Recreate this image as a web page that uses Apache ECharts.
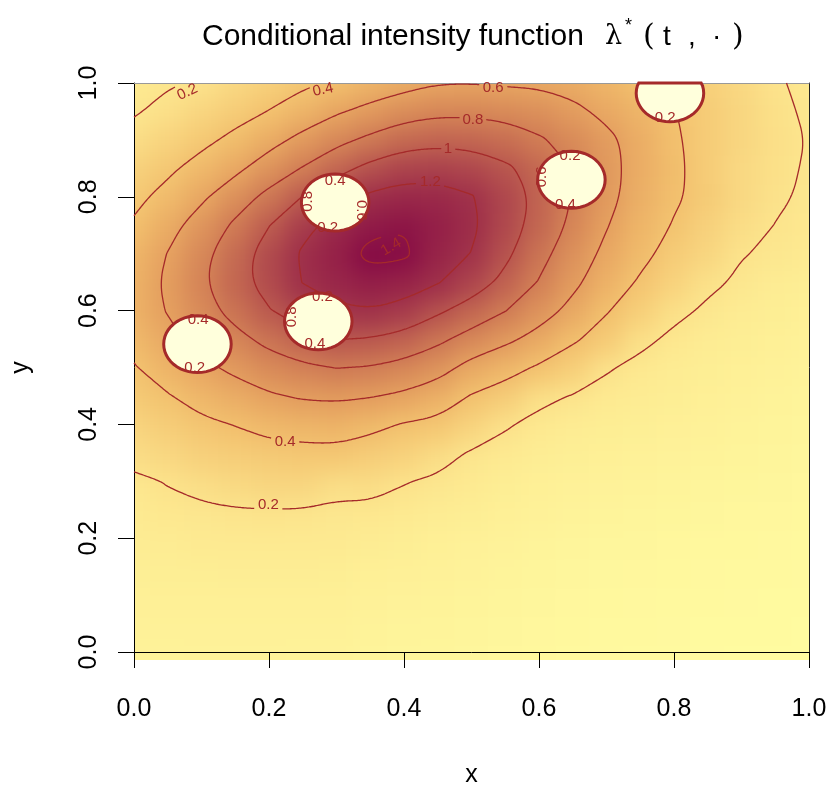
<!DOCTYPE html>
<html><head><meta charset="utf-8">
<script src="https://cdn.jsdelivr.net/npm/echarts@6/dist/echarts.min.js"></script>
<style>
html,body{margin:0;padding:0;background:#fff}
#wrap{position:relative;width:833px;height:793px}
#heat{position:absolute;left:0;top:0;width:833px;height:793px;filter:blur(11px);clip-path:inset(83px 24px 133px 134px)}
#c{position:absolute;left:0;top:0;width:833px;height:793px}
</style>
</head><body><div id="wrap"><div id="heat"></div><div id="c"></div></div>
<script>
// ---------------- data ----------------
const gridX = [0,0.05,0.1,0.15,0.2,0.25,0.3,0.35,0.4,0.45,0.5,0.55,0.6,0.65,0.7,0.75,0.8,0.85,0.9,0.95,1];
const gridY = [0,0.05,0.1,0.15,0.2,0.25,0.3,0.35,0.4,0.45,0.5,0.55,0.6,0.65,0.7,0.75,0.8,0.85,0.9,0.95,1];
// intensity rows, one per y (bottom to top), values along x
const row_y000 = [0.12,0.12,0.125,0.125,0.125,0.12,0.12,0.115,0.112,0.108,0.104,0.10,0.096,0.092,0.089,0.086,0.084,0.083,0.082,0.081,0.08];
const row_y005 = [0.13,0.13,0.13,0.13,0.13,0.13,0.13,0.12,0.117,0.114,0.11,0.106,0.10,0.096,0.093,0.09,0.088,0.086,0.085,0.084,0.082];
const row_y010 = [0.135,0.14,0.14,0.14,0.14,0.14,0.14,0.13,0.125,0.12,0.116,0.111,0.105,0.10,0.097,0.094,0.092,0.09,0.088,0.086,0.085];
const row_y015 = [0.145,0.15,0.15,0.155,0.155,0.155,0.15,0.14,0.135,0.13,0.125,0.117,0.111,0.106,0.101,0.099,0.097,0.095,0.092,0.09,0.088];
const row_y020 = [0.16,0.16,0.17,0.17,0.17,0.17,0.17,0.16,0.15,0.14,0.13,0.125,0.118,0.111,0.107,0.104,0.10,0.098,0.096,0.094,0.092];
const row_y025 = [0.17,0.18,0.185,0.195,0.198,0.197,0.185,0.18,0.17,0.16,0.15,0.14,0.13,0.12,0.116,0.11,0.108,0.105,0.10,0.099,0.096];
const row_y030 = [0.18,0.205,0.235,0.26,0.28,0.28,0.235,0.24,0.205,0.185,0.17,0.15,0.14,0.13,0.125,0.12,0.115,0.11,0.108,0.104,0.10];
const row_y035 = [0.24,0.27,0.31,0.33,0.35,0.36,0.36,0.33,0.30,0.24,0.19,0.17,0.155,0.145,0.14,0.13,0.125,0.12,0.115,0.11,0.105];
const row_y040 = [0.29,0.33,0.37,0.405,0.45,0.47,0.48,0.44,0.39,0.36,0.29,0.21,0.175,0.16,0.15,0.145,0.135,0.13,0.12,0.115,0.11];
const row_y045 = [0.35,0.39,0.46,0.52,0.58,0.62,0.63,0.61,0.57,0.50,0.39,0.33,0.225,0.195,0.17,0.16,0.15,0.14,0.13,0.12,0.115];
const row_y050 = [0.39,0.48,0.56,0.64,0.72,0.77,0.805,0.79,0.74,0.67,0.54,0.46,0.38,0.32,0.21,0.175,0.16,0.15,0.14,0.13,0.12];
const row_y055 = [0.45,0.55,0.66,0.75,0.85,0.94,1.005,0.99,0.94,0.84,0.73,0.64,0.54,0.42,0.34,0.225,0.18,0.16,0.15,0.14,0.13];
const row_y060 = [0.50,0.61,0.73,0.86,0.99,1.09,1.17,1.19,1.14,1.03,0.92,0.805,0.68,0.55,0.41,0.32,0.225,0.185,0.16,0.15,0.14];
const row_y065 = [0.50,0.63,0.77,0.93,1.07,1.205,1.27,1.32,1.29,1.21,1.10,0.95,0.79,0.64,0.50,0.38,0.30,0.22,0.185,0.16,0.15];
const row_y070 = [0.48,0.605,0.75,0.91,1.08,1.22,1.31,1.45,1.43,1.29,1.195,1.04,0.86,0.70,0.56,0.445,0.34,0.28,0.205,0.185,0.17];
const row_y075 = [0.42,0.54,0.68,0.83,0.995,1.15,1.26,1.35,1.39,1.32,1.23,1.09,0.93,0.76,0.61,0.48,0.39,0.31,0.24,0.198,0.18];
const row_y080 = [0.36,0.45,0.57,0.71,0.85,1.005,1.13,1.23,1.27,1.26,1.21,1.10,0.95,0.79,0.65,0.52,0.42,0.35,0.27,0.215,0.185];
const row_y085 = [0.31,0.37,0.46,0.56,0.69,0.81,0.94,1.05,1.12,1.13,1.10,1.03,0.93,0.79,0.66,0.53,0.43,0.34,0.27,0.225,0.19];
const row_y090 = [0.24,0.30,0.36,0.44,0.54,0.65,0.75,0.84,0.92,0.95,0.94,0.90,0.82,0.74,0.64,0.53,0.42,0.34,0.28,0.23,0.195];
const row_y095 = [0.19,0.23,0.29,0.34,0.405,0.49,0.58,0.65,0.72,0.76,0.76,0.74,0.71,0.64,0.56,0.49,0.405,0.34,0.28,0.225,0.185];
const row_y100 = [0.17,0.19,0.21,0.27,0.32,0.37,0.42,0.49,0.54,0.59,0.595,0.58,0.57,0.54,0.48,0.41,0.385,0.32,0.27,0.21,0.18];
const intensityRows = [row_y000,row_y005,row_y010,row_y015,row_y020,row_y025,row_y030,row_y035,row_y040,row_y045,row_y050,
  row_y055,row_y060,row_y065,row_y070,row_y075,row_y080,row_y085,row_y090,row_y095,row_y100];

const contourLevels = [0.2,0.4,0.6,0.8,1.0,1.2,1.4];
// past events (holes of the intensity)
const eventX = [0.298,0.273,0.094,0.648,0.794];
const eventY = [0.790,0.581,0.541,0.830,0.982];
const holeRadius = 0.05;
// contour labels: x, y, text, angle
const labelX = [0.199,0.224,0.079,0.280,0.532,0.502,0.465,0.439,0.381];
const labelY = [0.258,0.369,0.984,0.988,0.991,0.936,0.884,0.827,0.712];
const labelText = ['0.2','0.4','0.2','0.4','0.6','0.8','1','1.2','1.4'];
const labelAngle = [0,0,25,12,0,0,0,0,30];
// labels of the rings around the holes
const ringX = [0.298,0.258,0.337,0.287, 0.279,0.234,0.268, 0.095,0.090, 0.646,0.604,0.639, 0.787];
const ringY = [0.828,0.792,0.776,0.745, 0.624,0.589,0.541, 0.584,0.499, 0.872,0.835,0.785, 0.939];
const ringText = ['0.4','0.8','0.6','0.2', '0.2','0.8','0.4', '0.4','0.2', '0.2','0.6','0.4', '0.2'];
const ringAngle = [0,90,-90,0, 0,90,0, 0,0, 0,90,0, 0];

// ---------------- styling helpers ----------------
const palette = [
  [0.00,'#FFFFD8'],[0.08,'#FFFBA0'],[0.20,'#FCE48C'],[0.40,'#F3C26E'],[0.60,'#E6A260'],
  [0.80,'#D27F55'],[1.00,'#BB5A4F'],[1.20,'#A0324A'],[1.45,'#860A45']];
function hex2rgb(h){return [parseInt(h.substr(1,2),16),parseInt(h.substr(3,2),16),parseInt(h.substr(5,2),16)];}
function colorFor(v){
  if(v<=palette[0][0]) return palette[0][1];
  for(let k=1;k<palette.length;k++){
    if(v<=palette[k][0]){
      const t=(v-palette[k-1][0])/(palette[k][0]-palette[k-1][0]);
      const a=hex2rgb(palette[k-1][1]), b=hex2rgb(palette[k][1]);
      return 'rgb('+a.map((c,i)=>Math.round(c+t*(b[i]-c))).join(',')+')';
    }
  }
  return palette[palette.length-1][1];
}
const LINE = '#A52A2A';
const FONT='"Liberation Sans", Arial, Helvetica, sans-serif';

// heat cells
const cells=[];
for(let j=0;j<gridY.length;j++) for(let i=0;i<gridX.length;i++) cells.push([gridX[i],gridY[j],intensityRows[j][i]]);

// marching squares on the grid
function contourLines(level){
  const segs=[];
  const nx=gridX.length, ny=gridY.length;
  const ip=(p,q,vp,vq)=>{const t=(level-vp)/(vq-vp);return [p[0]+t*(q[0]-p[0]),p[1]+t*(q[1]-p[1])];};
  for(let j=0;j<ny-1;j++) for(let i=0;i<nx-1;i++){
    const a=intensityRows[j][i], b=intensityRows[j][i+1], c=intensityRows[j+1][i+1], d=intensityRows[j+1][i];
    const A=[gridX[i],gridY[j]],B=[gridX[i+1],gridY[j]],C=[gridX[i+1],gridY[j+1]],D=[gridX[i],gridY[j+1]];
    const e=[];
    if((a<level)!==(b<level)) e.push(ip(A,B,a,b));
    if((b<level)!==(c<level)) e.push(ip(B,C,b,c));
    if((d<level)!==(c<level)) e.push(ip(D,C,d,c));
    if((a<level)!==(d<level)) e.push(ip(A,D,a,d));
    if(e.length===2) segs.push([e[0],e[1]]);
    else if(e.length===4){
      const ctr=(a+b+c+d)/4;
      if((a>=level)===(ctr>=level)){segs.push([e[0],e[1]]);segs.push([e[2],e[3]]);}
      else {segs.push([e[0],e[3]]);segs.push([e[1],e[2]]);}
    }
  }
  const key=p=>p[0].toFixed(6)+'_'+p[1].toFixed(6);
  const map=new Map();
  segs.forEach((s,idx)=>s.forEach(p=>{const k=key(p);if(!map.has(k))map.set(k,[]);map.get(k).push(idx);}));
  const used=new Array(segs.length).fill(false);
  const lines=[];
  for(let s0=0;s0<segs.length;s0++){
    if(used[s0]) continue;
    used[s0]=true;
    const pts=[segs[s0][0],segs[s0][1]];
    const grow=(atEnd)=>{
      for(;;){
        const end=atEnd?pts[pts.length-1]:pts[0];
        const cand=(map.get(key(end))||[]).find(q=>!used[q]);
        if(cand===undefined) break;
        used[cand]=true;
        const s=segs[cand];
        const other=key(s[0])===key(end)?s[1]:s[0];
        if(atEnd) pts.push(other); else pts.unshift(other);
      }
    };
    grow(true); grow(false);
    lines.push({level,pts});
  }
  return lines;
}
// corner-cutting to draw the contour paths smoothly (pixel space)
function chaikin(pts,iter){
  let p=pts;
  const closed=p.length>3&&Math.hypot(p[0][0]-p[p.length-1][0],p[0][1]-p[p.length-1][1])<0.5;
  for(let it=0;it<iter;it++){
    const q=[];
    if(closed){
      const n=p.length-1;
      for(let i=0;i<n;i++){
        const a=p[i],b=p[(i+1)%n];
        q.push([0.75*a[0]+0.25*b[0],0.75*a[1]+0.25*b[1]]);
        q.push([0.25*a[0]+0.75*b[0],0.25*a[1]+0.75*b[1]]);
      }
      q.push(q[0]);
    } else {
      q.push(p[0]);
      for(let i=0;i<p.length-1;i++){
        const a=p[i],b=p[i+1];
        if(i>0) q.push([0.75*a[0]+0.25*b[0],0.75*a[1]+0.25*b[1]]);
        if(i<p.length-2) q.push([0.25*a[0]+0.75*b[0],0.25*a[1]+0.75*b[1]]);
      }
      q.push(p[p.length-1]);
    }
    p=q;
  }
  return p;
}
function densify(p,step){
  const out=[p[0]];
  for(let i=1;i<p.length;i++){
    const a=p[i-1],b=p[i],d=Math.hypot(b[0]-a[0],b[1]-a[1]),n=Math.max(1,Math.ceil(d/step));
    for(let k=1;k<=n;k++) out.push([a[0]+(b[0]-a[0])*k/n,a[1]+(b[1]-a[1])*k/n]);
  }
  return out;
}
const polylines=[];
contourLevels.forEach(l=>contourLines(l).forEach(p=>polylines.push(p)));
const labelLevel=labelText.map(t=>parseFloat(t));

const gridOpt={left:134,top:83,width:675,height:577,containLabel:false};

// ---- heat layer (separate canvas, softened with CSS blur) ----
const heat=echarts.init(document.getElementById('heat'),null,{renderer:'canvas'});
heat.setOption({
  animation:false,
  grid:gridOpt,
  xAxis:{type:'value',min:0,max:1,show:false},
  yAxis:{type:'value',min:0,max:1,show:false},
  series:[{
    type:'custom',coordinateSystem:'cartesian2d',silent:true,clip:false,
    data:cells,
    renderItem:(params,api)=>{
      const x=api.value(0),y=api.value(1),v=api.value(2),h=0.025;
      const x0=x<=0?-0.08:x-h, x1=x>=1?1.08:x+h, y0=y<=0?-0.08:y-h, y1=y>=1?1.08:y+h;
      const p0=api.coord([x0,y1]);
      const p1=api.coord([x1,y0]);
      return {type:'rect',shape:{x:p0[0]-0.5,y:p0[1]-0.5,width:p1[0]-p0[0]+1,height:p1[1]-p0[1]+1},
        style:{fill:colorFor(v)}};
    }
  }]
});

// ---- main chart ----
const chart=echarts.init(document.getElementById('c'),null,{renderer:'canvas'});
chart.setOption({
  animation:false,
  backgroundColor:'transparent',
  title:{
    text:'{a|Conditional intensity function}{l|λ}{s|*}{p|(}{t|t}{c|,}{d|·}{q|)}',
    left:197, top:12,
    textStyle:{fontWeight:'normal',rich:{
      a:{fontFamily:FONT,fontSize:30,fontWeight:'normal',color:'#000',width:403,lineHeight:40},
      l:{fontFamily:'"DejaVu Serif", serif',fontSize:27,fontWeight:'normal',color:'#000',width:20,lineHeight:40},
      s:{fontFamily:FONT,fontSize:18,fontWeight:'normal',color:'#000',verticalAlign:'top',lineHeight:40,width:18},
      p:{fontFamily:'"DejaVu Serif", serif',fontSize:30,fontWeight:'normal',color:'#000',width:20,lineHeight:40},
      t:{fontFamily:FONT,fontSize:28,fontWeight:'normal',color:'#000',width:25,lineHeight:40},
      c:{fontFamily:FONT,fontSize:28,fontWeight:'normal',color:'#000',width:24,lineHeight:40},
      d:{fontFamily:FONT,fontSize:28,fontWeight:'normal',color:'#000',width:20,lineHeight:40},
      q:{fontFamily:'"DejaVu Serif", serif',fontSize:30,fontWeight:'normal',color:'#000',lineHeight:40}
    }}
  },
  grid:gridOpt,
  xAxis:[{
    type:'value',min:0,max:1,interval:0.2,position:'bottom',
    name:'x',nameLocation:'middle',nameGap:111,
    nameTextStyle:{fontFamily:FONT,fontSize:25,color:'#000'},
    axisLine:{show:true,onZero:false,lineStyle:{color:'#000',width:1}},
    axisTick:{show:true,length:16,lineStyle:{color:'#000'}},
    axisLabel:{margin:45,fontFamily:FONT,fontSize:25,color:'#000',formatter:v=>v.toFixed(1)},
    splitLine:{show:false}
  },{
    type:'value',min:0,max:1,position:'top',
    axisLine:{show:true,onZero:false,lineStyle:{color:'#999',width:1}},
    axisTick:{show:false},axisLabel:{show:false},splitLine:{show:false}
  }],
  yAxis:[{
    type:'value',min:0,max:1,interval:0.2,position:'left',
    name:'y',nameLocation:'middle',nameGap:100,
    nameTextStyle:{fontFamily:FONT,fontSize:25,color:'#000'},
    axisLine:{show:true,onZero:false,lineStyle:{color:'#000',width:1}},
    axisTick:{show:true,length:16,lineStyle:{color:'#000'}},
    axisLabel:{margin:32,rotate:90,fontFamily:FONT,fontSize:25,color:'#000',formatter:v=>v.toFixed(1)},
    splitLine:{show:false}
  },{
    type:'value',min:0,max:1,position:'right',
    axisLine:{show:true,onZero:false,lineStyle:{color:'#222',width:1}},
    axisTick:{show:false},axisLabel:{show:false},splitLine:{show:false}
  }],
  series:[
    {
      type:'custom',name:'contours',coordinateSystem:'cartesian2d',z:2,silent:true,
      data:polylines.map(p=>[p.pts[0][0],p.pts[0][1],p.level]),
      renderItem:(params,api)=>{
        const pl=polylines[params.dataIndex];
        let px=densify(chaikin(pl.pts.map(p=>api.coord(p)),3),2);
        const gaps=[];
        labelLevel.forEach((lv,i)=>{
          if(Math.abs(lv-pl.level)<1e-9){
            const c=api.coord([labelX[i],labelY[i]]);
            gaps.push([c[0],c[1],labelText[i].length*3.6+2.5]);
          }
        });
        const runs=[];let cur=[];
        px.forEach(p=>{
          const hidden=gaps.some(g=>Math.hypot(p[0]-g[0],p[1]-g[1])<g[2]);
          if(hidden){ if(cur.length>1) runs.push(cur); cur=[]; }
          else cur.push(p);
        });
        if(cur.length>1) runs.push(cur);
        return {type:'group',children:runs.map(r=>({type:'polyline',shape:{points:r},
          style:{stroke:LINE,lineWidth:1.3,fill:null}}))};
      }
    },
    {
      type:'custom',name:'holes',coordinateSystem:'cartesian2d',z:3,silent:true,
      data:eventX.map((x,i)=>[x,eventY[i]]),
      renderItem:(params,api)=>{
        const cx=api.value(0),cy=api.value(1),pts=[];
        for(let k=0;k<48;k++){
          const a=k/48*2*Math.PI;
          pts.push(api.coord([cx+holeRadius*Math.cos(a),Math.min(1,cy+holeRadius*Math.sin(a))]));
        }
        return {type:'polygon',shape:{points:pts},style:{fill:'#FFFFDC',stroke:LINE,lineWidth:3}};
      }
    },
    {
      type:'custom',name:'contourLabels',coordinateSystem:'cartesian2d',z:4,silent:true,
      data:labelX.map((x,i)=>[x,labelY[i],i]),
      renderItem:(params,api)=>{
        const i=params.dataIndex,p=api.coord([labelX[i],labelY[i]]);
        return {type:'text',x:p[0],y:p[1],rotation:labelAngle[i]*Math.PI/180,
          style:{text:labelText[i],fill:LINE,font:'15px '+FONT,align:'center',verticalAlign:'middle'}};
      }
    },
    {
      type:'custom',name:'ringLabels',coordinateSystem:'cartesian2d',z:5,silent:true,
      data:ringX.map((x,i)=>[x,ringY[i],i]),
      renderItem:(params,api)=>{
        const i=params.dataIndex,p=api.coord([ringX[i],ringY[i]]);
        return {type:'text',x:p[0],y:p[1],rotation:ringAngle[i]*Math.PI/180,
          style:{text:ringText[i],fill:LINE,font:'15px '+FONT,align:'center',verticalAlign:'middle'}};
      }
    }
  ]
});
</script></body></html>
